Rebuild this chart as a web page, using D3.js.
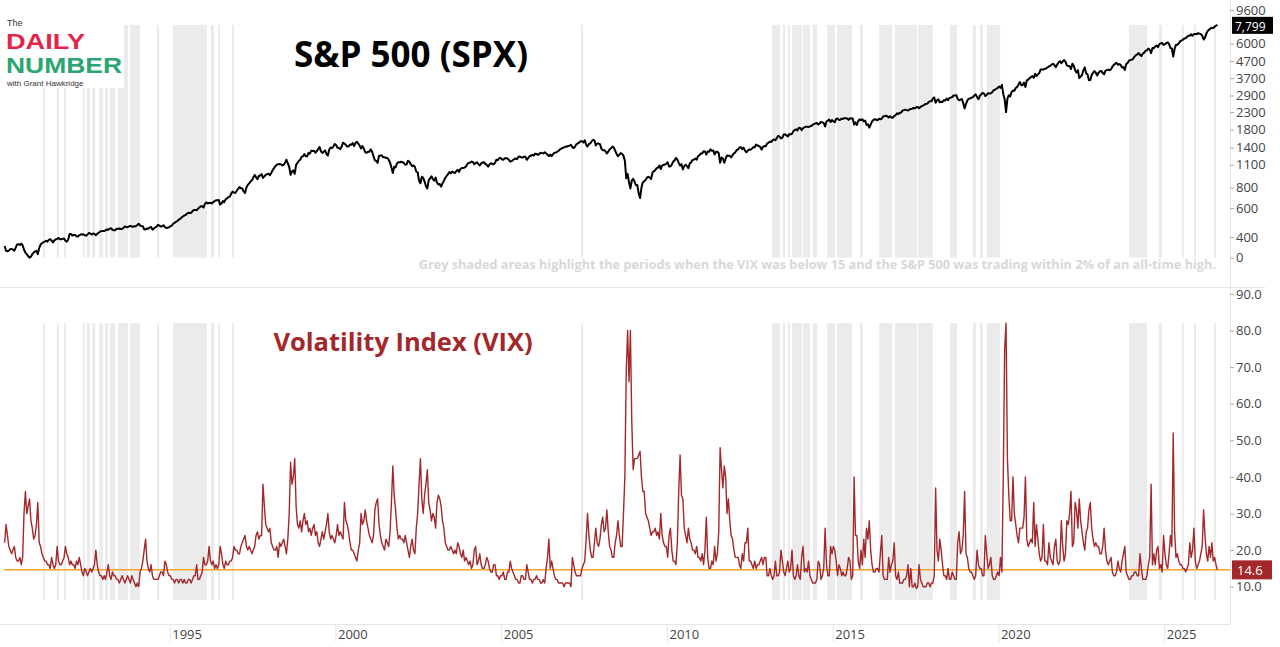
<!DOCTYPE html>
<html>
<head>
<meta charset="utf-8">
<script src="https://cdn.jsdelivr.net/npm/d3@7"></script>
<style>
  body { margin: 0; background: #fff; }
  svg { display: block; font-family: "Open Sans", sans-serif; }
</style>
</head>
<body>
<svg width="1280" height="647"></svg>
<script>
// two readings per month, starting Jan 1990
const startYear = 1990;
const perYear = 24;

const spx = [
  353, 330, 328, 331, 338, 339, 335, 331, 345, 361, 362, 358, 365, 356, 335, 322, 315, 306, 300, 304, 315, 322, 327, 330, // 1990
  315, 343, 360, 367, 372, 375, 380, 375, 385, 389, 380, 371, 382, 387, 390, 395, 388, 388, 390, 392, 380, 375, 385, 417,
  418, 408, 412, 412, 405, 403, 410, 414, 416, 415, 410, 408, 415, 424, 420, 414, 420, 418, 410, 419, 425, 431, 435, 436,
  435, 439, 445, 443, 450, 452, 443, 440, 440, 450, 448, 451, 447, 448, 455, 464, 461, 459, 464, 468, 463, 462, 465, 466,
  474, 482, 470, 467, 465, 446, 445, 451, 450, 457, 460, 444, 450, 458, 462, 475, 470, 463, 465, 472, 460, 454, 455, 459,
  465, 470, 482, 487, 495, 500, 510, 515, 525, 533, 540, 545, 555, 562, 560, 562, 575, 584, 585, 582, 595, 605, 615, 616, // 1995
  605, 636, 650, 640, 645, 646, 640, 654, 660, 669, 670, 671, 630, 640, 662, 652, 680, 687, 700, 705, 735, 757, 745, 741,
  765, 786, 805, 791, 790, 757, 740, 801, 830, 848, 870, 885, 920, 954, 925, 899, 940, 947, 965, 915, 935, 955, 965, 970,
  950, 980, 1020, 1049, 1080, 1101, 1110, 1111, 1110, 1090, 1100, 1133, 1180, 1120, 1070, 957, 1000, 1017, 970, 1098, 1130, 1163, 1180, 1229,
  1240, 1279, 1240, 1238, 1300, 1286, 1340, 1335, 1340, 1301, 1330, 1373, 1410, 1328, 1300, 1320, 1345, 1283, 1250, 1362, 1400, 1389, 1420, 1469,
  1450, 1394, 1390, 1366, 1420, 1499, 1480, 1452, 1420, 1421, 1460, 1455, 1490, 1431, 1490, 1518, 1480, 1437, 1380, 1429, 1380, 1315, 1300, 1320, // 2000
  1320, 1366, 1320, 1240, 1170, 1160, 1130, 1249, 1250, 1256, 1220, 1224, 1210, 1211, 1180, 1134, 1060, 980, 1070, 1060, 1120, 1139, 1140, 1148,
  1140, 1130, 1100, 1106, 1165, 1147, 1110, 1077, 1090, 1067, 1000, 990, 880, 850, 930, 916, 870, 815, 790, 885, 910, 936, 900, 880,
  920, 856, 835, 841, 810, 848, 880, 917, 940, 964, 995, 975, 1000, 990, 980, 1008, 1025, 996, 1040, 1050, 1050, 1058, 1075, 1112,
  1130, 1131, 1150, 1145, 1110, 1126, 1140, 1107, 1090, 1121, 1135, 1141, 1110, 1101, 1070, 1104, 1125, 1115, 1105, 1130, 1180, 1174, 1205, 1212,
  1185, 1181, 1205, 1204, 1200, 1181, 1150, 1157, 1175, 1192, 1200, 1191, 1230, 1234, 1220, 1220, 1230, 1229, 1180, 1207, 1240, 1249, 1265, 1248, // 2005
  1285, 1280, 1265, 1281, 1300, 1295, 1290, 1311, 1290, 1270, 1240, 1270, 1240, 1277, 1300, 1304, 1320, 1336, 1365, 1378, 1395, 1401, 1420, 1418,
  1430, 1438, 1455, 1407, 1390, 1421, 1470, 1482, 1505, 1531, 1530, 1503, 1550, 1455, 1420, 1474, 1480, 1527, 1560, 1549, 1440, 1481, 1480, 1468,
  1380, 1350, 1350, 1330, 1290, 1322, 1365, 1386, 1420, 1400, 1340, 1280, 1240, 1267, 1295, 1283, 1250, 1166, 910, 969, 860, 790, 880, 903,
  870, 826, 830, 735, 690, 798, 860, 873, 890, 919, 930, 919, 900, 987, 1005, 1021, 1050, 1057, 1090, 1036, 1090, 1096, 1105, 1115,
  1140, 1074, 1075, 1104, 1150, 1169, 1210, 1187, 1130, 1089, 1110, 1031, 1080, 1102, 1080, 1049, 1120, 1141, 1175, 1183, 1200, 1181, 1240, 1258, // 2010
  1290, 1286, 1330, 1327, 1270, 1326, 1320, 1364, 1340, 1345, 1270, 1321, 1320, 1292, 1130, 1219, 1200, 1131, 1200, 1253, 1250, 1247, 1220, 1258,
  1290, 1312, 1350, 1366, 1400, 1408, 1370, 1398, 1340, 1310, 1340, 1362, 1355, 1379, 1405, 1407, 1460, 1441, 1430, 1412, 1360, 1416, 1430, 1426,
  1480, 1498, 1520, 1515, 1555, 1569, 1550, 1598, 1650, 1631, 1590, 1606, 1680, 1686, 1660, 1633, 1690, 1682, 1700, 1757, 1790, 1806, 1780, 1848,
  1840, 1783, 1840, 1859, 1870, 1872, 1865, 1884, 1890, 1924, 1950, 1960, 1975, 1931, 1960, 2003, 1990, 1972, 1880, 2018, 2040, 2068, 2000, 2059,
  2020, 1995, 2090, 2105, 2060, 2068, 2100, 2086, 2120, 2107, 2100, 2063, 2110, 2104, 2100, 1930, 1990, 1920, 2030, 2079, 2050, 2080, 2020, 2044, // 2015
  1920, 1940, 1850, 1932, 2020, 2060, 2080, 2065, 2050, 2097, 2080, 2099, 2160, 2174, 2185, 2171, 2130, 2168, 2130, 2126, 2180, 2199, 2260, 2239,
  2275, 2279, 2350, 2364, 2380, 2363, 2350, 2384, 2400, 2412, 2435, 2423, 2460, 2470, 2430, 2472, 2500, 2519, 2560, 2575, 2590, 2648, 2680, 2674,
  2780, 2824, 2620, 2714, 2750, 2641, 2660, 2648, 2720, 2705, 2780, 2718, 2800, 2816, 2840, 2902, 2905, 2914, 2770, 2712, 2740, 2760, 2600, 2420,
  2580, 2704, 2775, 2784, 2810, 2834, 2900, 2946, 2840, 2752, 2890, 2942, 3010, 2980, 2880, 2926, 3000, 2977, 2990, 3038, 3120, 3141, 3190, 3231,
  3290, 3226, 3370, 2954, 2750, 2300, 2780, 2912, 2860, 3044, 3110, 3100, 3220, 3271, 3380, 3500, 3350, 3363, 3480, 3270, 3580, 3622, 3690, 3756, // 2020
  3800, 3714, 3930, 3811, 3900, 3973, 4170, 4181, 4170, 4204, 4240, 4297, 4360, 4395, 4470, 4523, 4450, 4308, 4470, 4605, 4690, 4567, 4670, 4766,
  4660, 4420, 4380, 4374, 4200, 4530, 4400, 4132, 4000, 4132, 3700, 3785, 3860, 4130, 4300, 3955, 3900, 3586, 3600, 3872, 3990, 4080, 3990, 3840,
  3990, 4077, 4090, 3970, 3900, 4109, 4140, 4169, 4130, 4180, 4340, 4450, 4530, 4589, 4460, 4508, 4450, 4288, 4320, 4150, 4500, 4568, 4720, 4770,
  4780, 4846, 5000, 5096, 5150, 5254, 5120, 5036, 5220, 5278, 5430, 5460, 5600, 5522, 5250, 5648, 5620, 5762, 5840, 5705, 5950, 6032, 6050, 5882,
  5950, 6040, 6110, 5955, 5640, 5612, 5000, 5569, 5900, 5912, 6000, 6205, 6260, 6339, 6450, 6460, 6600, 6688, 6700, 6840, 6700, 6849, 6850, 6845, // 2025
  6940, 6900, 6850, 6700, 6350, 6500, 6900, 7150, 7300, 7400, 7500, 7450, 7600, 7700, 7799
];

const vix = [
  22, 27, 24, 21, 20, 19, 20, 21, 18, 17, 17, 18, 16, 18, 30, 36, 30, 32, 34, 28, 26, 23, 24, 27, // 1990
  33, 22, 21, 19, 18, 17, 17, 16, 16, 15, 18, 16, 15, 16, 21, 17, 16, 16, 17, 18, 21, 19, 18, 16,
  17, 16, 16, 15, 17, 16, 18, 16, 14, 13, 15, 14, 13, 14, 15, 14, 15, 16, 20, 16, 14, 13, 13, 12,
  13, 12, 14, 16, 13, 12, 14, 13, 13, 12, 12, 11, 12, 13, 12, 11, 12, 13, 12, 11, 13, 12, 11, 10,
  11, 10, 14, 15, 17, 20, 23, 17, 15, 14, 16, 13, 12, 12, 12, 12, 13, 14, 14, 13, 17, 16, 14, 13,
  13, 12, 12, 11, 12, 12, 11, 12, 12, 11, 12, 11, 11, 12, 12, 11, 12, 13, 13, 16, 12, 12, 13, 14, // 1995
  18, 16, 16, 17, 21, 17, 16, 17, 15, 16, 15, 16, 21, 19, 16, 15, 17, 16, 16, 17, 17, 18, 21, 20,
  20, 19, 19, 21, 22, 23, 24, 21, 20, 21, 20, 19, 20, 21, 24, 25, 23, 24, 24, 38, 32, 27, 26, 25,
  26, 22, 21, 20, 20, 21, 18, 22, 21, 22, 23, 21, 19, 23, 30, 44, 38, 40, 45, 32, 27, 26, 28, 25,
  28, 30, 27, 28, 25, 26, 24, 26, 27, 24, 25, 22, 21, 23, 25, 23, 25, 27, 30, 25, 23, 24, 23, 22,
  24, 27, 24, 25, 24, 23, 33, 28, 27, 25, 22, 20, 20, 19, 18, 17, 20, 22, 30, 27, 28, 31, 28, 26, // 2000
  24, 23, 22, 24, 31, 33, 34, 27, 24, 22, 21, 20, 23, 22, 21, 25, 33, 43, 35, 31, 26, 23, 24, 23,
  23, 22, 24, 22, 20, 18, 21, 23, 20, 19, 26, 30, 38, 45, 34, 30, 35, 38, 42, 33, 31, 28, 30, 29,
  26, 33, 35, 34, 32, 28, 26, 22, 21, 20, 20, 21, 20, 19, 20, 19, 22, 21, 19, 18, 20, 17, 18, 17,
  16, 17, 15, 16, 20, 21, 16, 17, 19, 16, 15, 15, 16, 18, 17, 15, 14, 14, 16, 16, 13, 13, 12, 13,
  13, 14, 12, 12, 14, 14, 17, 15, 14, 13, 12, 12, 11, 11, 13, 13, 12, 12, 16, 14, 12, 12, 11, 12, // 2005
  12, 13, 12, 12, 11, 11, 12, 11, 15, 18, 23, 15, 17, 15, 13, 12, 12, 11, 11, 11, 11, 10, 11, 11,
  11, 11, 10, 18, 16, 14, 13, 13, 13, 13, 15, 16, 17, 23, 30, 24, 20, 18, 18, 22, 26, 22, 21, 23,
  27, 29, 25, 26, 31, 25, 21, 20, 18, 18, 22, 24, 28, 24, 21, 21, 30, 40, 69, 80, 66, 80, 55, 42,
  45, 45, 45, 46, 47, 40, 36, 36, 30, 29, 28, 26, 24, 25, 25, 26, 24, 25, 23, 30, 24, 22, 21, 21,
  18, 24, 26, 20, 17, 17, 16, 22, 36, 46, 35, 34, 26, 24, 22, 26, 23, 22, 20, 20, 19, 21, 18, 18, // 2010
  17, 19, 16, 20, 29, 18, 15, 15, 17, 16, 21, 17, 19, 25, 48, 42, 37, 43, 40, 30, 34, 28, 24, 23,
  20, 18, 18, 18, 16, 15, 19, 17, 22, 22, 26, 17, 17, 16, 15, 17, 15, 16, 16, 17, 18, 16, 18, 18,
  13, 13, 15, 13, 12, 13, 17, 13, 13, 14, 20, 17, 14, 13, 15, 17, 14, 15, 20, 13, 12, 13, 16, 13,
  12, 18, 21, 14, 15, 14, 17, 13, 12, 11, 11, 11, 12, 17, 16, 12, 13, 15, 26, 16, 13, 13, 21, 19,
  21, 20, 17, 13, 16, 15, 13, 14, 13, 13, 15, 18, 17, 12, 13, 40, 24, 24, 17, 15, 20, 16, 23, 18, // 2015
  26, 23, 28, 20, 16, 14, 14, 15, 15, 14, 19, 24, 13, 12, 12, 12, 18, 14, 16, 17, 22, 13, 12, 14,
  11, 11, 11, 12, 12, 13, 16, 10, 15, 10, 10, 11, 9.5, 10, 16, 12, 11, 10, 10, 10, 11, 11, 10, 11,
  11, 13, 37, 20, 17, 23, 20, 16, 13, 13, 12, 15, 12, 12, 14, 13, 12, 12, 22, 25, 19, 20, 24, 36,
  19, 18, 15, 14, 14, 13, 12, 13, 20, 16, 15, 15, 13, 13, 24, 19, 15, 16, 18, 13, 12, 12, 13, 14,
  13, 18, 14, 40, 75, 82, 45, 35, 28, 28, 40, 30, 27, 24, 22, 26, 26, 26, 29, 40, 23, 21, 22, 23, // 2020
  22, 33, 21, 27, 23, 19, 17, 18, 27, 17, 17, 16, 22, 18, 17, 16, 21, 23, 17, 16, 17, 28, 21, 17,
  19, 28, 27, 30, 36, 21, 22, 33, 31, 26, 34, 28, 25, 22, 20, 25, 26, 31, 33, 26, 23, 21, 22, 21,
  21, 19, 19, 21, 26, 20, 17, 16, 17, 18, 14, 13, 13, 14, 17, 15, 14, 17, 19, 21, 14, 13, 12, 12,
  13, 13, 14, 14, 13, 13, 19, 15, 12, 12, 12, 13, 16, 18, 38, 16, 19, 16, 20, 21, 15, 16, 14, 24,
  19, 16, 15, 19, 24, 21, 52, 25, 18, 19, 17, 16, 16, 15, 15, 14, 15, 16, 22, 18, 20, 26, 17, 15, // 2025
  16, 17, 19, 21, 31, 24, 19, 17, 21, 18, 22, 17, 18, 16, 14.6
];

// periods with VIX < 15 and S&P 500 within 2% of a record, in decimal years
const bandStart = [1991.18, 1991.60, 1991.81, 1992.38, 1992.50, 1992.66, 1992.87, 1993.05, 1993.20, 1993.44,
  1993.80, 1994.62, 1995.10, 1996.24, 1996.46, 1996.88, 2007.41, 2013.17, 2013.50, 2013.65, 2013.77, 2014.10,
  2014.40, 2014.83, 2015.13, 2015.82, 2016.40, 2016.88, 2017.57, 2018.54, 2019.23, 2019.44, 2019.65, 2023.94,
  2024.84, 2025.53, 2025.89, 2026.50];
const bandEnd = [1991.24, 1991.66, 1991.87, 1992.44, 1992.59, 1992.75, 1992.99, 1993.14, 1993.35, 1993.74,
  1994.10, 1994.68, 1996.12, 1996.34, 1996.52, 1996.94, 2007.47, 2013.41, 2013.56, 2013.71, 2014.07, 2014.31,
  2014.53, 2015.07, 2015.58, 2015.91, 2016.79, 2017.54, 2018.02, 2018.75, 2019.32, 2019.53, 2020.05, 2024.48,
  2024.93, 2025.59, 2025.96, 2026.56];

const spxTicks = [300, 400, 600, 800, 1100, 1400, 1800, 2300, 2900, 3700, 4700, 6000, 9600];
const spxTickLabels = ['0', '400', '600', '800', '1100', '1400', '1800', '2300', '2900', '3700', '4700', '6000', '9600'];
const vixTicks = [10, 20, 30, 40, 50, 60, 70, 80, 90];
const yearTicks = [1995, 2000, 2005, 2010, 2015, 2020, 2025];
const vixLine = 14.6;

function toDate(t) {
  let y = Math.floor(t);
  let a = new Date(y, 0, 1), b = new Date(y + 1, 0, 1);
  return new Date(+a + (t - y) * (b - a));
}
let dateAt = i => toDate(startYear + (i + 0.5) / perYear);

let svg = d3.select('svg');

let x = d3.scaleTime().domain([toDate(1990), toDate(2027)]).range([4, 1230.5]);
let yS = d3.scaleLog().domain([9600, 300]).range([10, 257.6]);
let yV = d3.scaleLinear().domain([10, 90]).range([586.7, 293.9]);
let axisX = 1230, vixFloor = 600;

// shaded periods
let bands = bandStart.map((s, i) => ({s: s, e: bandEnd[i]}));
let sTop = yS(d3.max(spx)), sBot = yS(d3.min(spx));
let vTop = yV(d3.max(vix));
[[sTop, sBot], [vTop, vixFloor]].forEach(function(p) {
  svg.append('g').selectAll('rect')
    .data(bands)
    .enter()
    .append('rect')
    .attr('x', d => x(toDate(d.s)))
    .attr('width', d => Math.max(1.5, x(toDate(d.e)) - x(toDate(d.s))))
    .attr('y', p[0])
    .attr('height', p[1] - p[0])
    .attr('fill', '#ebebeb');
});

// frame lines
svg.append('line').attr('x1', 0).attr('x2', 1265).attr('y1', 287.5).attr('y2', 287.5).attr('stroke', '#e6e6e6');
svg.append('line').attr('x1', 0).attr('x2', axisX).attr('y1', 624.5).attr('y2', 624.5).attr('stroke', '#e6e6e6');
svg.append('line').attr('x1', axisX + 0.5).attr('x2', axisX + 0.5).attr('y1', 0).attr('y2', 624).attr('stroke', '#e6e6e6');

// note
svg.append('text')
  .attr('x', 1216).attr('y', 269)
  .attr('text-anchor', 'end')
  .attr('font-size', '12.7px').attr('font-weight', 700)
  .attr('fill', '#d8d8d8')
  .text('Grey shaded areas highlight the periods when the VIX was below 15 and the S&P 500 was trading within 2% of an all-time high.');

// S&P line
svg.append('path')
  .datum(spx)
  .attr('fill', 'none')
  .attr('stroke', '#000')
  .attr('stroke-width', 2)
  .attr('stroke-linejoin', 'round')
  .attr('d', d3.line().x((d, i) => x(dateAt(i))).y(d => yS(d)));

// VIX reference level and line
svg.append('line')
  .attr('x1', x.range()[0]).attr('x2', axisX)
  .attr('y1', yV(vixLine)).attr('y2', yV(vixLine))
  .attr('stroke', '#f5a42a').attr('stroke-width', 1.5);

svg.append('path')
  .datum(vix)
  .attr('fill', 'none')
  .attr('stroke', '#a3282b')
  .attr('stroke-width', 1.4)
  .attr('stroke-linejoin', 'round')
  .attr('d', d3.line().x((d, i) => x(dateAt(i))).y(d => yV(d)));

// axes
function styleAxis(g) {
  g.select('.domain').remove();
  g.attr('font-family', '"Open Sans", sans-serif').attr('font-size', 13);
  g.selectAll('.tick line').attr('stroke', '#aaa');
  g.selectAll('.tick text').attr('fill', '#444');
}

svg.append('g')
  .attr('transform', `translate(${axisX},0)`)
  .call(d3.axisRight(yS).tickValues(spxTicks).tickFormat((d, i) => spxTickLabels[i]).tickSize(4).tickPadding(2))
  .call(styleAxis);

svg.append('g')
  .attr('transform', `translate(${axisX},0)`)
  .call(d3.axisRight(yV).tickValues(vixTicks).tickFormat(d3.format('.1f')).tickSize(4).tickPadding(2))
  .call(styleAxis);

svg.append('g')
  .attr('transform', 'translate(0,624)')
  .call(d3.axisBottom(x).tickValues(yearTicks.map(y => toDate(y))).tickFormat(d3.timeFormat('%Y')).tickSize(18))
  .call(styleAxis)
  .call(g => g.selectAll('.tick line').attr('stroke', '#e6e6e6'))
  .call(g => g.selectAll('.tick text').attr('text-anchor', 'start').attr('x', 2).attr('y', 6));

// last value tags
let lastS = spx[spx.length - 1], lastV = vix[vix.length - 1];
let tagS = svg.append('g').attr('transform', `translate(${axisX + 2},${yS(lastS)})`);
tagS.append('rect').attr('x', 0).attr('y', -8).attr('width', 41).attr('height', 17).attr('fill', '#000');
tagS.append('text').attr('x', 3).attr('y', 6).attr('font-size', '12px').attr('fill', '#fff').text(d3.format(',')(lastS));

let tagV = svg.append('g').attr('transform', `translate(${axisX + 2},${yV(lastV)})`);
tagV.append('rect').attr('x', 0).attr('y', -9.5).attr('width', 40).attr('height', 19).attr('fill', '#a3282b');
tagV.append('text').attr('x', 5).attr('y', 5).attr('font-size', '13px').attr('fill', '#fff').text(d3.format('.1f')(lastV));

// titles
svg.append('text').attr('x', 411).attr('y', 67).attr('text-anchor', 'middle')
  .attr('font-size', '35px').attr('font-weight', 700).attr('fill', '#000').text('S&P 500 (SPX)');
svg.append('text').attr('x', 403).attr('y', 351).attr('text-anchor', 'middle')
  .attr('font-size', '25.5px').attr('font-weight', 700).attr('fill', '#a3282b').text('Volatility Index (VIX)');

// logo
let logo = svg.append('g').attr('font-family', '"Liberation Sans", sans-serif');
logo.append('rect').attr('x', 0).attr('y', 16).attr('width', 124).attr('height', 72).attr('fill', '#fff');
logo.append('text').attr('x', 7).attr('y', 26).attr('font-size', '9px').attr('fill', '#333').text('The');
logo.append('text').attr('x', 6).attr('y', 48.5).attr('font-weight', 700).attr('font-size', '22px')
  .attr('fill', '#e2264b').attr('textLength', 79).attr('lengthAdjust', 'spacingAndGlyphs').text('DAILY');
logo.append('text').attr('x', 6).attr('y', 73).attr('font-weight', 700).attr('font-size', '22px')
  .attr('fill', '#2ba672').attr('textLength', 116).attr('lengthAdjust', 'spacingAndGlyphs').text('NUMBER');
logo.append('text').attr('x', 7).attr('y', 85.5).attr('font-size', '8px').attr('fill', '#333').text('with Grant Hawkridge');
</script>
</body>
</html>
